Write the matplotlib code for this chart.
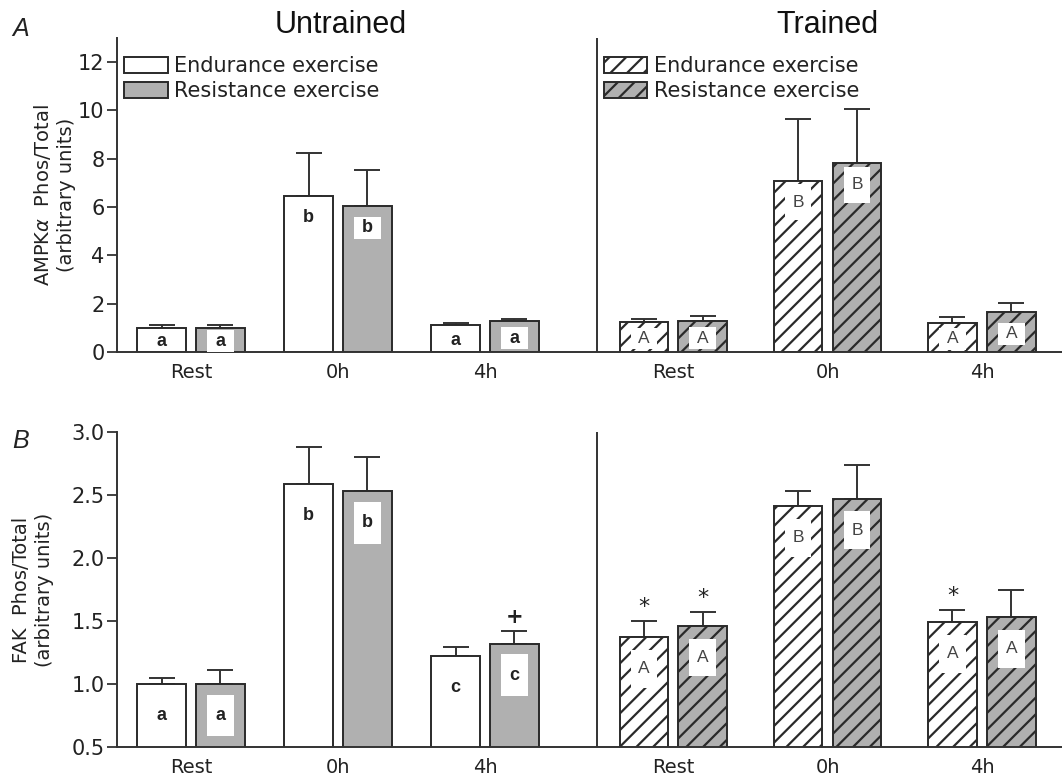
import matplotlib
matplotlib.use("Agg")
import matplotlib.pyplot as plt
from matplotlib.patches import Patch, Rectangle
import numpy as np

# ---------------- data ----------------
timepoints = ["Rest", "0h", "4h"]

# Panel A: AMPKalpha Phos/Total
A_untr_end = [1.00, 6.45, 1.10]
A_untr_end_se = [0.10, 1.78, 0.10]
A_untr_res = [1.00, 6.05, 1.27]
A_untr_res_se = [0.10, 1.49, 0.11]
A_tr_end = [1.24, 7.10, 1.20]
A_tr_end_se = [0.14, 2.55, 0.23]
A_tr_res = [1.29, 7.83, 1.66]
A_tr_res_se = [0.20, 2.24, 0.35]
A_untr_letters = ["a", "b", "a"]
A_tr_letters = ["A", "B", "A"]

# Panel B: FAK Phos/Total
B_untr_end = [1.00, 2.59, 1.22]
B_untr_end_se = [0.05, 0.29, 0.07]
B_untr_res = [1.00, 2.53, 1.32]
B_untr_res_se = [0.11, 0.27, 0.10]
B_tr_end = [1.37, 2.41, 1.49]
B_tr_end_se = [0.13, 0.12, 0.10]
B_tr_res = [1.46, 2.47, 1.53]
B_tr_res_se = [0.11, 0.27, 0.22]
B_untr_letters = ["a", "b", "c"]
B_tr_letters = ["A", "B", "A"]
B_untr_res_marks = ["", "", "+"]
B_tr_end_marks = ["*", "", "*"]
B_tr_res_marks = ["*", "", ""]

# ---------------- style ----------------
GRAY = "#b0b0b0"
EDGE = "#2a2a2a"
AXC = "#333333"
plt.rcParams["hatch.linewidth"] = 1.6
plt.rcParams["font.family"] = ["DejaVu Sans"]

fig = plt.figure(figsize=(10.62, 7.79), dpi=100)
axA = fig.add_axes([0.1102, 0.5481, 0.8898, 0.4031])
axB = fig.add_axes([0.1102, 0.0411, 0.8898, 0.4043])

untr_pos = np.array([0.0, 1.0, 2.0])
tr_pos = np.array([3.28, 4.33, 5.38])
off = 0.2
width = 0.33
divider_x = 2.762
HATCH = "//"


def draw_panel(ax, series, ylim, yticks, fmt, letters_fn, box_h_fn, marks):
    for (pos, vals, se, face, hatch, letters, boxed, mk) in series:
        ax.bar(pos, vals, width=width, color=face, edgecolor=EDGE,
               linewidth=1.4, hatch=hatch, zorder=2)
        ax.errorbar(pos, vals, yerr=[np.zeros(len(vals)), se], fmt="none",
                    ecolor=AXC, elinewidth=1.4, capsize=9.5, capthick=1.4,
                    zorder=1.5)
        for x, v, s, lab, m in zip(pos, vals, se, letters, mk):
            ly = letters_fn(v)
            bw, bh = 0.18, box_h_fn(v, lab)
            if boxed:
                ax.add_patch(Rectangle((x - bw / 2, ly - bh / 2), bw, bh,
                                       facecolor="white", edgecolor="none",
                                       zorder=3))
            upper = lab.isupper()
            ax.text(x, ly, lab, ha="center", va="center",
                    fontsize=12.5 if upper else 13,
                    fontweight="normal" if upper else "bold",
                    color="#444444" if upper else "#222222",
                    family="Liberation Sans", zorder=4)
            if m:
                ax.text(x, v + s + marks, m, ha="center", va="bottom",
                        fontsize=15 if m == "+" else 16,
                        fontweight="bold" if m == "+" else "normal",
                        color="#222222", zorder=4)
    ax.set_ylim(*ylim)
    ax.set_xlim(-0.503, 5.925)
    ax.set_yticks(yticks)
    ax.set_yticklabels([fmt.format(t) for t in yticks])
    ax.set_xticks(np.concatenate([untr_pos, tr_pos]))
    ax.set_xticklabels(timepoints * 2)
    ax.tick_params(axis="x", length=0, pad=8, labelsize=14, colors="#222222")
    ax.tick_params(axis="y", length=7, width=1.3, pad=2, labelsize=15,
                   colors=AXC, labelcolor="#222222", direction="out")
    for sp in ["top", "right"]:
        ax.spines[sp].set_visible(False)
    for sp in ["left", "bottom"]:
        ax.spines[sp].set_color(AXC)
        ax.spines[sp].set_linewidth(1.4)
    ax.axvline(divider_x, color=AXC, linewidth=1.4, zorder=1)


# Panel A
seriesA = [
    (untr_pos - off, A_untr_end, A_untr_end_se, "white", None, A_untr_letters, False, ["", "", ""]),
    (untr_pos + off, A_untr_res, A_untr_res_se, GRAY, None, A_untr_letters, True, ["", "", ""]),
    (tr_pos - off, A_tr_end, A_tr_end_se, "white", HATCH, A_tr_letters, True, ["", "", ""]),
    (tr_pos + off, A_tr_res, A_tr_res_se, GRAY, HATCH, A_tr_letters, True, ["", "", ""]),
]


def letA(v):
    return v * 0.45 if v < 3 else v - 0.9


def boxA(v, lab):
    if v < 3:
        return 0.9
    return 1.5 if lab.isupper() else 0.92


draw_panel(axA, seriesA, (0, 13), [0, 2, 4, 6, 8, 10, 12], "{:g}", letA, boxA, 0.1)

# Panel B
seriesB = [
    (untr_pos - off, B_untr_end, B_untr_end_se, "white", None, B_untr_letters, False, ["", "", ""]),
    (untr_pos + off, B_untr_res, B_untr_res_se, GRAY, None, B_untr_letters, True, B_untr_res_marks),
    (tr_pos - off, B_tr_end, B_tr_end_se, "white", HATCH, B_tr_letters, True, B_tr_end_marks),
    (tr_pos + off, B_tr_res, B_tr_res_se, GRAY, HATCH, B_tr_letters, True, B_tr_res_marks),
]


def letB(v):
    return v - 0.25


def boxB(v, lab):
    return 0.30 if lab.isupper() else 0.33


draw_panel(axB, seriesB, (0.5, 3.0), [0.5, 1.0, 1.5, 2.0, 2.5, 3.0], "{:.1f}", letB, boxB, 0.03)

# y labels
axA.text(-0.0667, 0.5, "AMPK$\\alpha$  Phos/Total\n(arbitrary units)", rotation=90,
         ha="center", va="center", transform=axA.transAxes, fontsize=14,
         multialignment="center", linespacing=1.25, color="#222222")
axB.text(-0.0889, 0.5, "FAK  Phos/Total\n(arbitrary units)", rotation=90,
         ha="center", va="center", transform=axB.transAxes, fontsize=14,
         multialignment="center", linespacing=1.25, color="#222222")

# legends (panel A)
h1 = [Patch(facecolor="white", edgecolor=EDGE, linewidth=1.4, label="Endurance exercise"),
      Patch(facecolor=GRAY, edgecolor=EDGE, linewidth=1.4, label="Resistance exercise")]
h2 = [Patch(facecolor="white", edgecolor=EDGE, linewidth=1.4, hatch=HATCH, label="Endurance exercise"),
      Patch(facecolor=GRAY, edgecolor=EDGE, linewidth=1.4, hatch=HATCH, label="Resistance exercise")]
legkw = dict(loc="upper left", frameon=False, fontsize=15, handlelength=2.1,
             handleheight=0.8, handletextpad=0.3, labelspacing=0.25,
             borderpad=0, borderaxespad=0, labelcolor="#222222")
leg1 = axA.legend(handles=h1, bbox_to_anchor=(0.0074, 0.943), **legkw)
axA.add_artist(leg1)
axA.legend(handles=h2, bbox_to_anchor=(0.515, 0.943), **legkw)

# titles and panel letters
fig.text(0.321, 0.968, "Untrained", ha="center", va="center", fontsize=22,
         family="Liberation Sans", color="#111111")
fig.text(0.7787, 0.968, "Trained", ha="center", va="center", fontsize=22,
         family="Liberation Sans", color="#111111")
fig.text(0.0198, 0.9628, "A", ha="center", va="center", fontsize=18,
         style="italic", family="Liberation Sans", color="#222222")
fig.text(0.0198, 0.4339, "B", ha="center", va="center", fontsize=18,
         style="italic", family="Liberation Sans", color="#222222")

fig.savefig("out.png", dpi=100, facecolor="white")
